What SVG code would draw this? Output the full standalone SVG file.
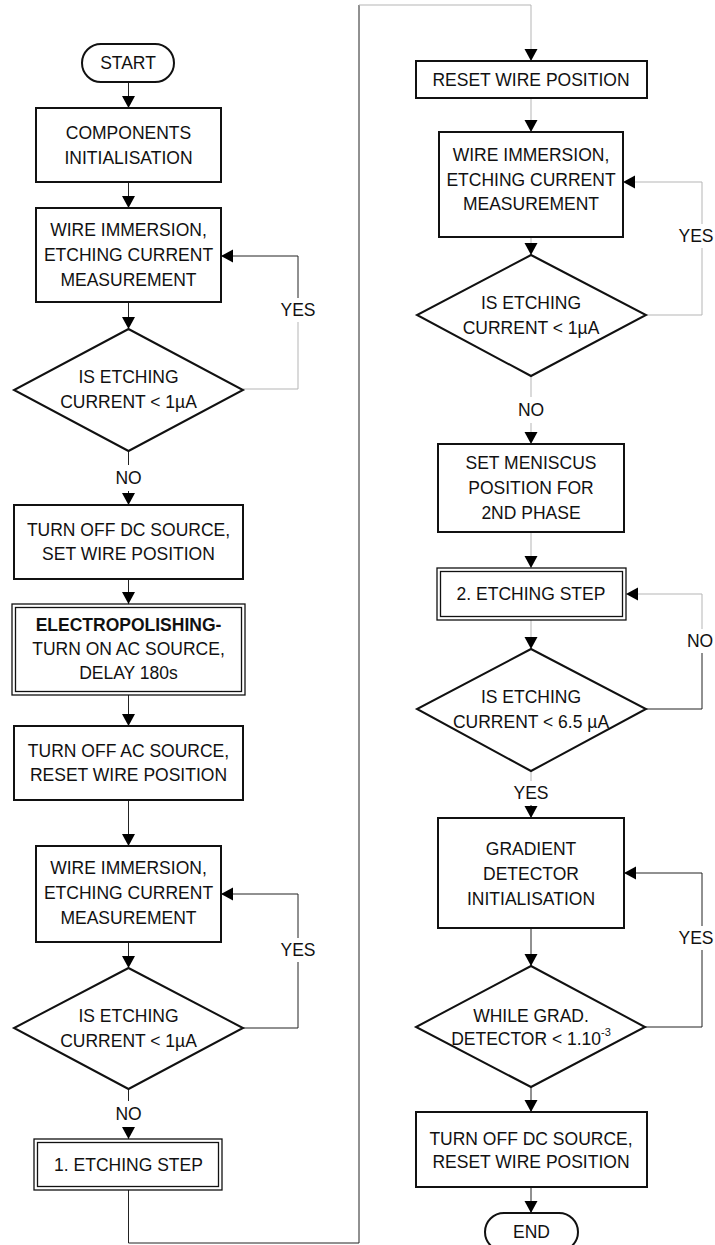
<svg xmlns="http://www.w3.org/2000/svg" width="715" height="1245" viewBox="0 0 715 1245">
<defs>
<style>
.box{fill:#fff;stroke:#111;stroke-width:2}
.dbl{fill:none;stroke:#111;stroke-width:1.3}
.t{font-family:"Liberation Sans",Arial,sans-serif;font-size:17.5px;fill:#111;text-anchor:middle;dominant-baseline:central}
.b{font-weight:bold}
.c{fill:none;stroke:#222;stroke-width:1}
.g{fill:none;stroke:#b5b5b5;stroke-width:1}
.lbl{font-family:"Liberation Sans",Arial,sans-serif;font-size:17.5px;fill:#111;text-anchor:middle;dominant-baseline:central}
</style>
<marker id="ah" markerUnits="userSpaceOnUse" markerWidth="14" markerHeight="14" refX="12" refY="6.5" orient="auto">
<path d="M0,0 L12,6.5 L0,13 Z" fill="#000"/>
</marker>
</defs>
<rect width="715" height="1245" fill="#fff"/>

<g id="connectors">
<line class="c" x1="128.5" y1="82" x2="128.5" y2="108" marker-end="url(#ah)"/>
<line class="c" x1="128.5" y1="182" x2="128.5" y2="208" marker-end="url(#ah)"/>
<line class="c" x1="128.5" y1="302" x2="128.5" y2="329" marker-end="url(#ah)"/>
<polyline class="g" points="243,389 298,389 298,322"/>
<polyline class="c" points="298,298 298,256 221,256" marker-end="url(#ah)"/>
<line class="c" x1="128.5" y1="451" x2="128.5" y2="465"/>
<line class="c" x1="128.5" y1="491" x2="128.5" y2="505" marker-end="url(#ah)"/>
<line class="c" x1="128.5" y1="579" x2="128.5" y2="604" marker-end="url(#ah)"/>
<line class="c" x1="128.5" y1="695" x2="128.5" y2="726" marker-end="url(#ah)"/>
<line class="c" x1="128.5" y1="800" x2="128.5" y2="846" marker-end="url(#ah)"/>
<line class="c" x1="128.5" y1="942" x2="128.5" y2="968" marker-end="url(#ah)"/>
<polyline class="c" points="243,1028 298,1028 298,962"/>
<polyline class="c" points="298,938 298,894 221,894" marker-end="url(#ah)"/>
<line class="c" x1="128.5" y1="1089" x2="128.5" y2="1101"/>
<line class="c" x1="128.5" y1="1127" x2="128.5" y2="1139" marker-end="url(#ah)"/>
<polyline class="c" points="128.5,1190 128.5,1243 359,1243 359,5"/>
<polyline class="g" points="359,5 531,5 531,61" marker-end="url(#ah)"/>
<line class="g" x1="531" y1="98" x2="531" y2="132" marker-end="url(#ah)"/>
<line class="g" x1="531" y1="237" x2="531" y2="255" marker-end="url(#ah)"/>
<polyline class="g" points="646,315 702,315 702,248"/>
<polyline class="g" points="702,224 702,182 623,182" marker-end="url(#ah)"/>
<line class="g" x1="531" y1="376" x2="531" y2="397"/>
<line class="g" x1="531" y1="423" x2="531" y2="444" marker-end="url(#ah)"/>
<line class="g" x1="531" y1="532" x2="531" y2="568" marker-end="url(#ah)"/>
<line class="g" x1="531" y1="620" x2="531" y2="649" marker-end="url(#ah)"/>
<polyline class="c" points="646,709 702,709 702,653"/>
<polyline class="g" points="702,629 702,594 626,594" marker-end="url(#ah)"/>
<line class="g" x1="531" y1="771" x2="531" y2="781"/>
<line class="c" x1="531" y1="805" x2="531" y2="818" marker-end="url(#ah)"/>
<line class="c" x1="531" y1="928" x2="531" y2="966" marker-end="url(#ah)"/>
<polyline class="c" points="645,1027 702,1027 702,950"/>
<polyline class="c" points="702,926 702,873 624,873" marker-end="url(#ah)"/>
<line class="c" x1="531" y1="1087" x2="531" y2="1112" marker-end="url(#ah)"/>
<line class="c" x1="531" y1="1187" x2="531" y2="1213" marker-end="url(#ah)"/>
<text class="lbl" x="298" y="310">YES</text>
<text class="lbl" x="128.5" y="478">NO</text>
<text class="lbl" x="298" y="950">YES</text>
<text class="lbl" x="128.5" y="1114">NO</text>
<text class="lbl" x="696" y="236">YES</text>
<text class="lbl" x="531" y="410">NO</text>
<text class="lbl" x="700" y="641">NO</text>
<text class="lbl" x="531" y="793">YES</text>
<text class="lbl" x="696" y="938">YES</text>
</g>

<g id="start">
<rect class="box" x="82" y="44" width="92" height="38" rx="19"/>
<text class="t" x="128" y="63">START</text>
</g>
<g id="components-init">
<rect class="box" x="36" y="108" width="185" height="74"/>
<text class="t" x="128.5" y="133">COMPONENTS</text>
<text class="t" x="128.5" y="158">INITIALISATION</text>
</g>
<g id="wire-immersion-1">
<rect class="box" x="36" y="208" width="185" height="94"/>
<text class="t" x="128.5" y="230">WIRE IMMERSION,</text>
<text class="t" x="128.5" y="255">ETCHING CURRENT</text>
<text class="t" x="128.5" y="280">MEASUREMENT</text>
</g>
<g id="decision-1">
<polygon class="box" points="128.5,329 243,390 128.5,451 14,390"/>
<text class="t" x="128.5" y="377">IS ETCHING</text>
<text class="t" x="128.5" y="402">CURRENT &lt; 1µA</text>
</g>
<g id="turn-off-dc-1">
<rect class="box" x="14" y="505" width="229" height="74"/>
<text class="t" x="128.5" y="530">TURN OFF DC SOURCE,</text>
<text class="t" x="128.5" y="554">SET WIRE POSITION</text>
</g>
<g id="electropolishing">
<rect class="dbl" x="12" y="604" width="233" height="91"/>
<rect class="dbl" x="15.5" y="607.5" width="226" height="84"/>
<text class="t b" x="128.5" y="625">ELECTROPOLISHING-</text>
<text class="t" x="128.5" y="649">TURN ON AC SOURCE,</text>
<text class="t" x="128.5" y="673">DELAY 180s</text>
</g>
<g id="turn-off-ac">
<rect class="box" x="14" y="726" width="229" height="74"/>
<text class="t" x="128.5" y="751">TURN OFF AC SOURCE,</text>
<text class="t" x="128.5" y="775">RESET WIRE POSITION</text>
</g>
<g id="wire-immersion-2">
<rect class="box" x="36" y="846" width="185" height="96"/>
<text class="t" x="128.5" y="868">WIRE IMMERSION,</text>
<text class="t" x="128.5" y="893">ETCHING CURRENT</text>
<text class="t" x="128.5" y="918">MEASUREMENT</text>
</g>
<g id="decision-2">
<polygon class="box" points="128.5,968 243,1028 128.5,1089 14,1028"/>
<text class="t" x="128.5" y="1016">IS ETCHING</text>
<text class="t" x="128.5" y="1041">CURRENT &lt; 1µA</text>
</g>
<g id="etching-step-1">
<rect class="dbl" x="34" y="1139" width="188" height="51"/>
<rect class="dbl" x="37.5" y="1142.5" width="181" height="44"/>
<text class="t" x="128.5" y="1165">1. ETCHING STEP</text>
</g>

<g id="reset-wire">
<rect class="box" x="416" y="61" width="231" height="37"/>
<text class="t" x="531" y="80">RESET WIRE POSITION</text>
</g>
<g id="wire-immersion-3">
<rect class="box" x="439" y="132" width="184" height="105"/>
<text class="t" x="531" y="155">WIRE IMMERSION,</text>
<text class="t" x="531" y="180">ETCHING CURRENT</text>
<text class="t" x="531" y="204">MEASUREMENT</text>
</g>
<g id="decision-3">
<polygon class="box" points="531,255 646,315 531,376 417,315"/>
<text class="t" x="531" y="303">IS ETCHING</text>
<text class="t" x="531" y="328">CURRENT &lt; 1µA</text>
</g>
<g id="set-meniscus">
<rect class="box" x="438" y="444" width="186" height="88"/>
<text class="t" x="531" y="463">SET MENISCUS</text>
<text class="t" x="531" y="488">POSITION FOR</text>
<text class="t" x="531" y="513">2ND PHASE</text>
</g>
<g id="etching-step-2">
<rect class="dbl" x="437" y="568" width="189" height="52"/>
<rect class="dbl" x="440.5" y="571.5" width="182" height="45"/>
<text class="t" x="531" y="594">2. ETCHING STEP</text>
</g>
<g id="decision-4">
<polygon class="box" points="531,649 646,709 531,771 417,709"/>
<text class="t" x="531" y="697">IS ETCHING</text>
<text class="t" x="531" y="722">CURRENT &lt; 6.5 µA</text>
</g>
<g id="gradient-init">
<rect class="box" x="438" y="818" width="186" height="110"/>
<text class="t" x="531" y="849">GRADIENT</text>
<text class="t" x="531" y="874">DETECTOR</text>
<text class="t" x="531" y="899">INITIALISATION</text>
</g>
<g id="decision-5">
<polygon class="box" points="531,966 645,1027 531,1087 416,1027"/>
<text class="t" x="531" y="1016">WHILE GRAD.</text>
<text class="t" x="531" y="1039">DETECTOR &lt; 1.10<tspan font-size="11" dy="-7">-3</tspan></text>
</g>
<g id="turn-off-dc-2">
<rect class="box" x="416" y="1112" width="231" height="75"/>
<text class="t" x="531" y="1139">TURN OFF DC SOURCE,</text>
<text class="t" x="531" y="1162">RESET WIRE POSITION</text>
</g>
<g id="end">
<rect class="box" x="485" y="1213" width="93" height="38" rx="19"/>
<text class="t" x="531.5" y="1232">END</text>
</g>
</svg>
